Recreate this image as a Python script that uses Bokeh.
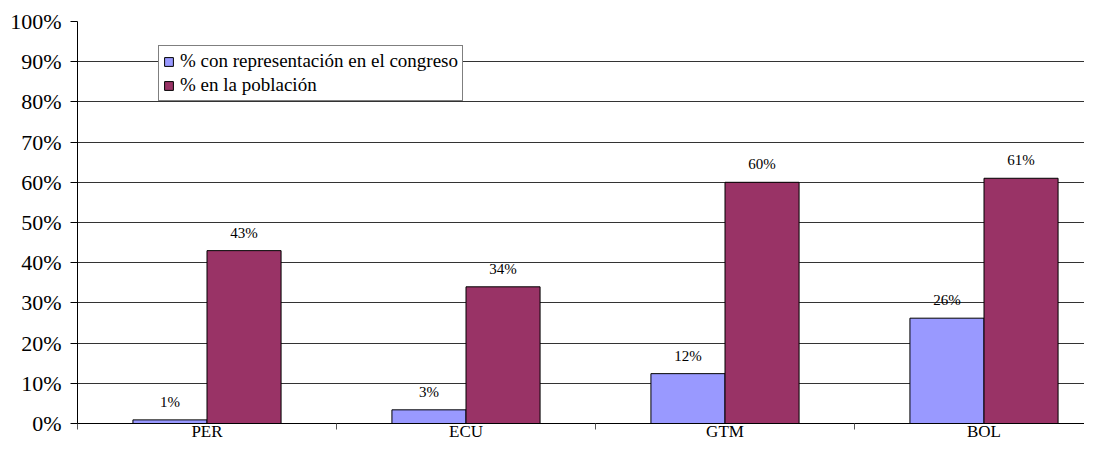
from bokeh.plotting import figure
from bokeh.models import Range1d, FixedTicker, Legend, LegendItem, ColumnDataSource
from bokeh.core.properties import value
from bokeh.embed import file_html
from bokeh.resources import INLINE

categories = ["PER", "ECU", "GTM", "BOL"]
congreso = [0.009, 0.034, 0.124, 0.262]
poblacion = [0.43, 0.34, 0.60, 0.61]
y_ticks = [i / 10 for i in range(11)]
series_names = ["% con representación en el congreso", "% en la población"]
colors = ["#9999FF", "#993366"]

FONT = "Liberation Serif"
CAT_PX = 259.0
W, H = 1084, 443
LEFT, TOP, BOTTOM = 77, 21, 19
frame_w = W - LEFT

p = figure(width=W, height=H, output_backend="svg", toolbar_location=None,
           x_range=Range1d(0, frame_w / CAT_PX), y_range=Range1d(0, 1),
           min_border_left=LEFT, min_border_top=TOP, min_border_bottom=BOTTOM,
           min_border_right=0, outline_line_color=None)
p.xgrid.visible = False
p.ygrid.grid_line_color = "#333333"
p.ygrid.grid_line_width = 1
p.ygrid.ticker = FixedTicker(ticks=y_ticks)

bw = 0.286
n = len(categories)
xs = [i + 0.5 for i in range(n)]
src1 = ColumnDataSource(dict(x=[x - bw / 2 for x in xs], top=congreso,
                             lab=[f"{v*100:.0f}%" for v in congreso]))
src2 = ColumnDataSource(dict(x=[x + bw / 2 for x in xs], top=poblacion,
                             lab=[f"{v*100:.0f}%" for v in poblacion]))
r1 = p.vbar(x="x", top="top", width=bw, source=src1, fill_color=colors[0],
            line_color="black", line_width=1)
r2 = p.vbar(x="x", top="top", width=bw, source=src2, fill_color=colors[1],
            line_color="black", line_width=1)
for s in (src1, src2):
    p.text(x="x", y="top", text="lab", source=s, text_align="center",
           text_baseline="bottom", y_offset=-10, text_font=value(FONT),
           text_font_size="15px", text_color="black")

# x axis
p.xaxis.ticker = FixedTicker(ticks=xs, minor_ticks=list(range(n)))
p.xaxis.major_label_overrides = {x: c for x, c in zip(xs, categories)}
p.xaxis.major_tick_out = 0
p.xaxis.major_tick_in = 0
p.xaxis.minor_tick_out = 6
p.xaxis.minor_tick_in = 0
p.xaxis.minor_tick_line_color = "#555555"
p.xaxis.axis_line_color = "black"
p.xaxis.major_label_text_font = FONT
p.xaxis.major_label_text_font_size = "17px"
p.xaxis.major_label_text_color = "black"
p.xaxis.major_label_standoff = -8

# y axis
p.yaxis.ticker = FixedTicker(ticks=y_ticks, minor_ticks=[])
p.yaxis.major_label_overrides = {t: f"{t*100:.0f}%" for t in y_ticks}
p.yaxis.major_tick_out = 7
p.yaxis.major_tick_in = 0
p.yaxis.axis_line_color = "black"
p.yaxis.major_tick_line_color = "black"
p.yaxis.major_label_text_font = FONT
p.yaxis.major_label_text_font_size = "22px"
p.yaxis.major_label_text_color = "black"
p.yaxis.major_label_standoff = 9

legend = Legend(items=[LegendItem(label=series_names[0], renderers=[r1]),
                       LegendItem(label=series_names[1], renderers=[r2])],
                location=(81, 322), border_line_color="black", border_line_width=1,
                background_fill_alpha=1, padding=4, spacing=2, label_height=20,
                glyph_height=11, glyph_width=11, label_standoff=6, margin=0)
legend.label_text_font = FONT
legend.label_text_font_size = "19px"
legend.label_text_color = "black"
p.add_layout(legend)

open("out.html", "w").write(file_html(p, INLINE))
